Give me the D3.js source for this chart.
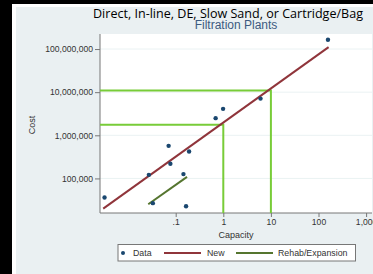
<!DOCTYPE html>
<html><head><meta charset="utf-8">
<script src="https://cdn.jsdelivr.net/npm/d3@7"></script>
<style>html,body{margin:0;padding:0;background:#000;}svg{display:block;}</style>
</head><body><svg id="c" width="373" height="274"></svg>
<script>
// Data
const capacity = [158, 6.05, 0.99, 0.69, 0.071, 0.191, 0.0773, 0.0273, 0.1455, 0.0032, 0.0331, 0.165];
const cost = [1.64e8, 7.1e6, 4.1e6, 2.5e6, 5.7e5, 4.2e5, 2.19e5, 1.21e5, 1.26e5, 3.6e4, 2.67e4, 2.27e4];
const newCapacity = [0.003, 163];
const newCost = [2.0e4, 1.11e8];
const rehabCapacity = [0.0265, 0.173];
const rehabCost = [2.52e4, 1.09e5];
const markCapacity = [1, 10];
const markCost = [1.76e6, 1.09e7];
const yTicks = [1e5, 1e6, 1e7, 1e8];
const yTickLabels = ["100,000", "1,000,000", "10,000,000", "100,000,000"];
const xTicks = [0.1, 1, 10, 100, 1000];
const xTickLabels = [".1", "1", "10", "100", "1,000"];
const legendLabels = ["Data", "New", "Rehab/Expansion"];

const svg = d3.select("#c");
svg.append("rect").attr("x",0).attr("y",0).attr("width",373).attr("height",274).attr("fill","#000");
svg.append("rect").attr("x",12).attr("y",4).attr("width",361).attr("height",270).attr("fill","#fff");
svg.append("rect").attr("x",16).attr("y",7).attr("width",357).attr("height",267).attr("fill","#eaf0f2");

const L=100, R=372, T=34, B=213;
const x = d3.scaleLog().domain([Math.pow(10,(L-223.3)/47.6), Math.pow(10,(R-223.3)/47.6)]).range([L,R]);
const y = d3.scaleLog().domain([Math.pow(10,6-(B-135.3)/43.13), Math.pow(10,6+(135.3-T)/43.13)]).range([B,T]);

svg.append("rect").attr("x",L).attr("y",T).attr("width",R-L).attr("height",B-T).attr("fill","#fff");
// gridlines
svg.selectAll(".grid").data(yTicks).enter().append("line")
  .attr("x1",L).attr("x2",R).attr("y1",d=>y(d)).attr("y2",d=>y(d))
  .attr("stroke","#eaf2f3").attr("stroke-width",1);

// axes
const yAxis = d3.axisLeft(y).tickValues(yTicks).tickFormat((d,i)=>yTickLabels[i]).tickSize(5).tickPadding(2);
const gy = svg.append("g").attr("transform",`translate(${L},0)`).call(yAxis);
gy.select(".domain").attr("d",`M0,${T}V${B}`).attr("stroke","#777");
gy.selectAll(".tick line").attr("stroke","#777");
gy.selectAll(".tick text").attr("font-family","Liberation Sans, Arial, sans-serif").attr("font-size","8.6px").attr("fill","#333");

const xAxis = d3.axisBottom(x).tickValues(xTicks).tickFormat((d,i)=>xTickLabels[i]).tickSize(4).tickPadding(2);
const gx = svg.append("g").attr("transform",`translate(0,${B})`).call(xAxis);
gx.select(".domain").attr("d",`M${L},0H${R}`).attr("stroke","#777");
gx.selectAll(".tick line").attr("stroke","#777");
gx.selectAll(".tick text").attr("font-family","Liberation Sans, Arial, sans-serif").attr("font-size","8.6px").attr("fill","#333");

// highlight lines
const lime = "#78cc38";
markCapacity.forEach((c,i)=>{
  svg.append("path").attr("fill","none").attr("stroke",lime).attr("stroke-width",2)
    .attr("d",`M${L},${y(markCost[i])}H${x(c)}V${B}`);
});

// New line
const line = d3.line().x(d=>x(d[0])).y(d=>y(d[1]));
svg.append("path").datum(d3.zip(newCapacity,newCost)).attr("d",line)
  .attr("fill","none").attr("stroke","#90353b").attr("stroke-width",2);
svg.append("path").datum(d3.zip(rehabCapacity,rehabCost)).attr("d",line)
  .attr("fill","none").attr("stroke","#55752f").attr("stroke-width",2);

// points
svg.selectAll(".pt").data(d3.zip(capacity,cost)).enter().append("circle")
  .attr("cx",d=>x(d[0])).attr("cy",d=>y(d[1])).attr("r",2.2).attr("fill","#1a476f");

// titles
svg.append("text").attr("x",228).attr("y",18).attr("text-anchor","middle")
  .attr("font-family","Open Sans, sans-serif").attr("font-size","12.5px").attr("fill","#000")
  .attr("textLength",270).attr("lengthAdjust","spacingAndGlyphs")
  .text("Direct, In-line, DE, Slow Sand, or Cartridge/Bag");
svg.append("text").attr("x",236).attr("y",29).attr("text-anchor","middle")
  .attr("font-family","Liberation Sans, Arial, sans-serif").attr("font-size","12px").attr("fill","#3c5a80")
  .text("Filtration Plants");

svg.append("text").attr("transform","translate(35,125) rotate(-90)").attr("text-anchor","middle")
  .attr("font-family","Liberation Sans, Arial, sans-serif").attr("font-size","9px").attr("fill","#333").text("Cost");
svg.append("text").attr("x",236).attr("y",238).attr("text-anchor","middle")
  .attr("font-family","Liberation Sans, Arial, sans-serif").attr("font-size","9px").attr("fill","#333").text("Capacity");

// legend
const lg = svg.append("g");
lg.append("rect").attr("x",118).attr("y",244.5).attr("width",237.5).attr("height",16.5)
  .attr("fill","#fff").attr("stroke","#777").attr("stroke-width",1);
const ly = 253;
lg.append("circle").attr("cx",123).attr("cy",ly).attr("r",2).attr("fill","#1a476f");
lg.append("line").attr("x1",164).attr("x2",201).attr("y1",ly).attr("y2",ly).attr("stroke","#90353b").attr("stroke-width",2);
lg.append("line").attr("x1",236).attr("x2",273).attr("y1",ly).attr("y2",ly).attr("stroke","#55752f").attr("stroke-width",2);
[[133,legendLabels[0]],[207,legendLabels[1]],[278,legendLabels[2]]].forEach(([lx,t])=>{
  lg.append("text").attr("x",lx).attr("y",ly+3).attr("font-family","Liberation Sans, Arial, sans-serif")
    .attr("font-size","8.8px").attr("fill","#333").text(t);
});
</script></body></html>
